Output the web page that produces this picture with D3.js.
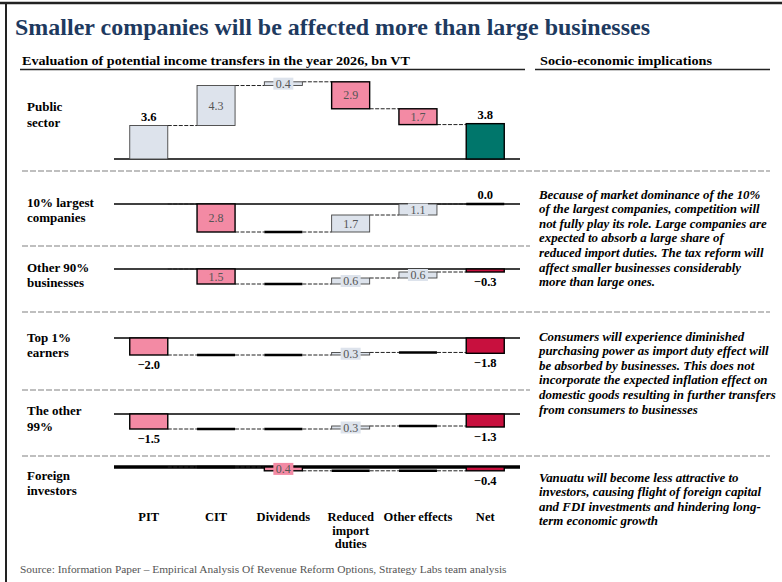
<!DOCTYPE html>
<html>
<head>
<meta charset="utf-8">
<script src="https://cdn.jsdelivr.net/npm/d3@7"></script>
<style>
  body { margin: 0; background: #fff; }
  svg text { font-family: "Liberation Serif", "DejaVu Serif", serif; }
</style>
</head>
<body>
<div id="chart"></div>
<script>
// data
const categories = ['PIT', 'CIT', 'Dividends', 'Reduced import duties', 'Other effects', 'Net'];
const categoryLines = [['PIT'], ['CIT'], ['Dividends'], ['Reduced', 'import', 'duties'], ['Other effects'], ['Net']];
const groups = [['Public', 'sector'], ['10% largest', 'companies'], ['Other 90%', 'businesses'],
                ['Top 1%', 'earners'], ['The other', '99%'], ['Foreign', 'investors']];

const publicSector = [3.6, 4.3, 0.4, -2.9, -1.7, 3.8];
const largest10 = [0, -2.8, 0, 1.7, 1.1, 0.0];
const other90 = [0, -1.5, 0, 0.6, 0.6, -0.3];
const top1 = [-2.0, 0, 0, 0.3, 0, -1.8];
const other99 = [-1.5, 0, 0, 0.3, 0, -1.3];
const foreign = [0, 0, -0.4, 0, 0, -0.4];

const title = 'Smaller companies will be affected more than large businesses';
const subtitleLeft = 'Evaluation of potential income transfers in the year 2026, bn VT';
const subtitleRight = 'Socio-economic implications';
const implications = [
  ['Because of market dominance of the 10%', 'of the largest companies, competition will',
   'not fully play its role. Large companies are', 'expected to absorb a large share of',
   'reduced import duties. The tax reform will', 'affect smaller businesses considerably',
   'more than large ones.'],
  ['Consumers will experience diminished', 'purchasing power as import duty effect will',
   'be absorbed by businesses. This does not', 'incorporate the expected inflation effect on',
   'domestic goods resulting in further transfers', 'from consumers to businesses'],
  ['Vanuatu will become less attractive to', 'investors, causing flight of foreign capital',
   'and FDI investments and hindering long-', 'term economic growth']
];
const source = 'Source: Information Paper \u2013 Empirical Analysis Of Revenue Reform Options, Strategy Labs team analysis';

const panels = [publicSector, largest10, other90, top1, other99, foreign];

// layout
const w = 782, h = 582;
const zeroY = [159, 204, 269, 338, 414, 467];
const unitPx = [9.3, 10, 10, 8.5, 10, 9.5];
const groupLabelY = [[111, 127], [207, 222], [272, 287], [342, 357], [415, 431], [480, 495]];
const separators = [[171, 770], [246, 530], [312, 770], [390, 530], [456, 770]];
const implicationY = [194, 336, 477];

const colors = { up: '#dde3ec', down: '#f38aa4', netUp: '#00766b', netDown: '#c8103e' };

const svg = d3.select('#chart').append('svg')
  .attr('width', w)
  .attr('height', h);

// frame
svg.append('line').attr('x1', 0).attr('x2', w).attr('y1', 3).attr('y2', 3)
  .attr('stroke', '#222').attr('stroke-width', 2.5);
svg.append('line').attr('x1', 6).attr('x2', 6).attr('y1', 3).attr('y2', h)
  .attr('stroke', '#222').attr('stroke-width', 2);

svg.append('text')
  .attr('x', 15).attr('y', 35)
  .attr('font-size', 23).attr('font-weight', 'bold')
  .attr('fill', '#1e3a5f')
  .attr('textLength', 635).attr('lengthAdjust', 'spacingAndGlyphs')
  .text(title);

svg.append('text').attr('x', 22).attr('y', 65)
  .attr('font-size', 13).attr('font-weight', 'bold')
  .attr('textLength', 388).attr('lengthAdjust', 'spacingAndGlyphs')
  .text(subtitleLeft);
svg.append('text').attr('x', 540).attr('y', 65)
  .attr('font-size', 13).attr('font-weight', 'bold')
  .attr('textLength', 172).attr('lengthAdjust', 'spacingAndGlyphs')
  .text(subtitleRight);
svg.append('line').attr('x1', 20).attr('x2', 525).attr('y1', 69.5).attr('y2', 69.5)
  .attr('stroke', '#222').attr('stroke-width', 1.3);
svg.append('line').attr('x1', 535).attr('x2', 770).attr('y1', 69.5).attr('y2', 69.5)
  .attr('stroke', '#222').attr('stroke-width', 1.3);

svg.selectAll('.sep')
  .data(separators)
  .enter()
  .append('line')
  .attr('class', 'sep')
  .attr('x1', 22).attr('x2', d => d[1])
  .attr('y1', d => d[0]).attr('y2', d => d[0])
  .attr('stroke', '#aaa').attr('stroke-width', 1.3)
  .attr('stroke-dasharray', '6,2');

const xScale = d3.scaleBand()
  .domain(categories)
  .range([114, 520])
  .paddingInner(0.435)
  .paddingOuter(0.234);
const bw = xScale.bandwidth();
const fmt = d3.format('.1f');

panels.forEach((values, p) => {
  const yScale = d3.scaleLinear().domain([0, 1]).range([zeroY[p], zeroY[p] - unitPx[p]]);
  const g = svg.append('g');

  // waterfall steps
  let running = 0;
  const steps = values.map((v, i) => {
    let start, end;
    if (i === values.length - 1) { start = 0; end = v; }
    else { start = running; end = running + v; running = end; }
    return { cat: categories[i], v, start, end, i, last: i === values.length - 1 };
  });

  // baseline
  g.append('line')
    .attr('x1', 114).attr('x2', 520)
    .attr('y1', yScale(0)).attr('y2', yScale(0))
    .attr('stroke', '#000').attr('stroke-width', p === 5 ? 3.5 : 1.6);

  // connectors
  g.selectAll('.conn')
    .data(steps.slice(0, -1))
    .enter()
    .append('line')
    .attr('x1', d => xScale(d.cat) + bw)
    .attr('x2', d => xScale(categories[d.i + 1]))
    .attr('y1', d => yScale(d.end)).attr('y2', d => yScale(d.end))
    .attr('stroke', '#222').attr('stroke-width', 1)
    .attr('stroke-dasharray', '4,1.5');

  const nonZero = steps.filter(d => d.v !== 0);
  const zero = steps.filter(d => d.v === 0 && d.i !== 0);

  g.selectAll('.zero')
    .data(zero)
    .enter()
    .append('line')
    .attr('x1', d => xScale(d.cat)).attr('x2', d => xScale(d.cat) + bw)
    .attr('y1', d => yScale(d.start)).attr('y2', d => yScale(d.start))
    .attr('stroke', '#000').attr('stroke-width', 2.5);

  g.selectAll('.bar')
    .data(nonZero)
    .enter()
    .append('rect')
    .attr('x', d => xScale(d.cat))
    .attr('y', d => yScale(Math.max(d.start, d.end)))
    .attr('width', bw)
    .attr('height', d => Math.abs(yScale(d.start) - yScale(d.end)))
    .attr('fill', d => d.last ? (d.v >= 0 ? colors.netUp : colors.netDown) : (d.v > 0 ? colors.up : colors.down))
    .attr('stroke', d => (d.v > 0 && !d.last) ? '#444' : '#000')
    .attr('stroke-width', d => (d.v > 0 && !d.last) ? 0.9 : 1.4);

  // labels for first and net bars: signed, bold, outside
  const outer = steps.filter(d => (d.i === 0 && d.v !== 0) || d.last);
  g.selectAll('.olab')
    .data(outer)
    .enter()
    .append('text')
    .attr('x', d => xScale(d.cat) + bw / 2)
    .attr('y', d => d.v >= 0 ? yScale(Math.max(d.start, d.end)) - 5 : yScale(Math.min(d.start, d.end)) + 14)
    .attr('text-anchor', 'middle')
    .attr('font-size', 12.5).attr('font-weight', 'bold')
    .text(d => fmt(d.v));

  // labels for intermediate bars: absolute value inside
  const inner = steps.filter(d => d.i > 0 && !d.last && d.v !== 0);
  const il = g.selectAll('.ilab')
    .data(inner)
    .enter()
    .append('g')
    .attr('transform', d => `translate(${xScale(d.cat) + bw / 2},${(yScale(d.start) + yScale(d.end)) / 2})`);
  il.filter(d => Math.abs(yScale(d.start) - yScale(d.end)) < 13)
    .append('rect')
    .attr('x', -10).attr('y', -6).attr('width', 20).attr('height', 12)
    .attr('fill', d => d.v > 0 ? colors.up : colors.down);
  il.append('text')
    .attr('text-anchor', 'middle')
    .attr('dy', '0.35em')
    .attr('font-size', 12)
    .attr('fill', '#555')
    .text(d => fmt(Math.abs(d.v)));

  // group label
  g.append('text')
    .attr('font-size', 13).attr('font-weight', 'bold')
    .selectAll('tspan')
    .data(groups[p])
    .enter()
    .append('tspan')
    .attr('x', 27)
    .attr('y', (d, k) => groupLabelY[p][k])
    .text(d => d);
});

// category axis
const xAxis = d3.axisBottom(xScale).tickSize(0).tickFormat('');
const axisG = svg.append('g')
  .attr('transform', 'translate(0,508)')
  .call(xAxis);
axisG.select('.domain').remove();
axisG.selectAll('.tick').append('text')
  .attr('text-anchor', 'middle')
  .attr('font-size', 12.5).attr('font-weight', 'bold')
  .attr('fill', '#000')
  .selectAll('tspan')
  .data(d => categoryLines[categories.indexOf(d)])
  .enter()
  .append('tspan')
  .attr('x', 0)
  .attr('y', (d, k) => 13 + k * 13.5)
  .text(d => d);

// implications
implications.forEach((lines, j) => {
  svg.append('text')
    .attr('font-size', 12.9).attr('font-weight', 'bold').attr('font-style', 'italic')
    .selectAll('tspan')
    .data(lines)
    .enter()
    .append('tspan')
    .attr('x', 539)
    .attr('y', (d, k) => implicationY[j] + 4.5 + k * 14.6)
    .text(d => d);
});

svg.append('text')
  .attr('x', 20).attr('y', 573)
  .attr('font-size', 11.4).attr('fill', '#555')
  .text(source);
</script>
</body>
</html>
